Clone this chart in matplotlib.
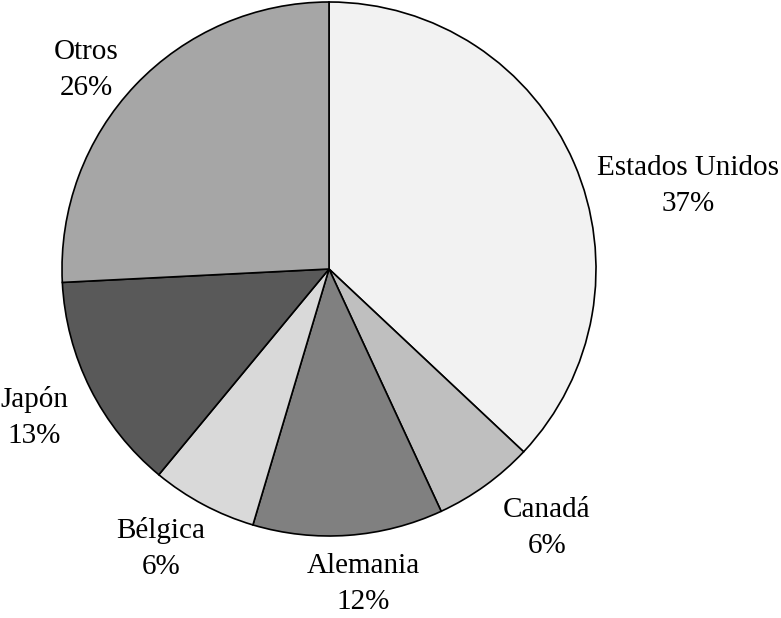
import matplotlib
matplotlib.use("Agg")
import matplotlib.pyplot as plt

categories = ["Estados Unidos", "Canadá", "Alemania", "Bélgica", "Japón", "Otros"]
values = [37.0, 6.1, 11.5, 6.4, 13.2, 25.8]
pct_labels = ["37%", "6%", "12%", "6%", "13%", "26%"]
colors = ["#f2f2f2", "#bfbfbf", "#808080", "#d9d9d9", "#595959", "#a6a6a6"]

# label anchor positions (in pie-radius units, relative to centre)
label_pos = [(1.345, 0.311), (0.816, -0.970), (0.127, -1.180),
             (-0.629, -1.048), (-1.105, -0.558), (-0.910, 0.746)]

W, H = 781, 618
fig = plt.figure(figsize=(W / 100, H / 100), dpi=100)
cx, cy, r = 329, 269, 267
ax = fig.add_axes([(cx - r) / W, (H - cy - r) / H, 2 * r / W, 2 * r / H])
ax.axis("off")

ax.pie(values, colors=colors, startangle=90, counterclock=False, radius=1,
       wedgeprops=dict(edgecolor="black", linewidth=1.2), frame=False)
ax.set_xlim(-1, 1)
ax.set_ylim(-1, 1)
ax.set_aspect("equal")

for name, pct, (x, y) in zip(categories, pct_labels, label_pos):
    ax.text(x, y, f"{name}\n{pct}", ha="center", va="center",
            fontsize=21, family="Liberation Serif", linespacing=1.5, clip_on=False)

fig.savefig("out.png", dpi=100)
